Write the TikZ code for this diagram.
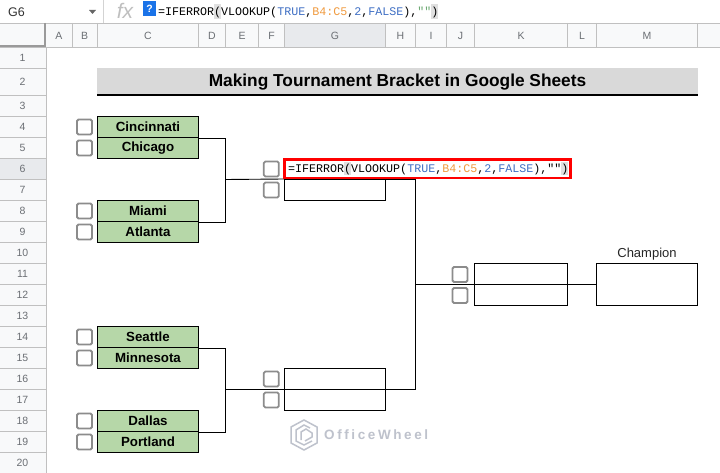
\documentclass[tikz,border=0pt]{standalone}
\usepackage{fontspec}
\setmainfont{Liberation Sans}
\setmonofont{Liberation Mono}
\usetikzlibrary{positioning,calc}
\definecolor{hdrbg}{HTML}{F8F9FA}
\definecolor{hdrsel}{HTML}{E8EAED}
\definecolor{hdrline}{HTML}{C0C0C0}
\definecolor{hdrtext}{HTML}{6B6F74}
\definecolor{teamgreen}{HTML}{B6D7A8}
\definecolor{titlegray}{HTML}{D9D9D9}
\definecolor{chkgray}{HTML}{8C8C8C}
\definecolor{fblue}{HTML}{3F6FC4}
\definecolor{forange}{HTML}{F09A3E}
\definecolor{fgreen}{HTML}{6AA870}
\definecolor{helpblue}{HTML}{1A73E8}
\definecolor{wmgray}{HTML}{BEC2CC}
\tikzset{
  hdrlabel/.style={text=hdrtext,font=\fontsize{10.5}{12}\selectfont,inner sep=0pt},
  teambox/.style={draw=black,line width=1pt,fill=teamgreen,minimum width=101.5pt,minimum height=21pt,inner sep=0pt,font=\bfseries\fontsize{13.3}{15}\selectfont},
  emptybox/.style={draw=black,line width=1pt,fill=white,inner sep=0pt},
  chkbox/.style={draw=chkgray,line width=1.8pt,rounded corners=1.5pt,fill=white,minimum width=15pt,minimum height=15pt,inner sep=0pt},
  wire/.style={draw=black,line width=0.9pt},
}
\newcommand{\fbar}[1]{{\ttfamily\fontsize{11.67}{13}\selectfont #1}}
\begin{document}
\begin{tikzpicture}[x=1pt,y=-1pt]
    \useasboundingbox (0,0) rectangle (720,473);
    \fill[white] (0,0) rectangle (720,473);

    % Formula bar
    \node[anchor=west,inner sep=0pt,text=black!80,font=\fontsize{12.5}{14}\selectfont] (cellname) at (8,12) {G6};
    \fill[black!60] (89,10) -- (96,10) -- (92.5,14) -- cycle;
    \draw[hdrline!70] (103.5,0) -- (103.5,23);
    \node[text=black!25,font=\rmfamily\itshape\fontsize{21}{22}\selectfont,inner sep=0pt] (fxmark) at (125,11) {fx};
    \node[fill=helpblue,text=white,font=\bfseries\fontsize{10.5}{11}\selectfont,minimum width=13pt,minimum height=15pt,inner sep=0pt] (helpmark) at (149.5,8.5) {?};
    \fill[black!12] (213.5,4) rectangle (220.5,19);
    \fill[black!12] (431,4) rectangle (438,19);
    \node[anchor=west,inner sep=0pt] (barformula) at (158,12.5) {\fbar{=IFERROR(VLOOKUP(\textcolor{fblue}{TRUE},\textcolor{forange}{B4:C5},\textcolor{fblue}{2},\textcolor{fblue}{FALSE}),\textcolor{fgreen}{""})}};

    % Column and row headers
    \fill[hdrbg] (0,23) rectangle (720,47);
    \fill[hdrbg] (0,47) rectangle (46,473);
    \fill[hdrsel] (284.5,23) rectangle (385.5,47);
    \fill[hdrsel] (0,158.5) rectangle (46,179.5);
    \draw[hdrline] (0,23.5) -- (720,23.5);
    \draw[hdrline] (0,47.5) -- (720,47.5);
    \draw[hdrline] (46,47) -- (46,473);
    \foreach \name/\left/\right in {A/46/72,B/72/97.5,C/97.5/198.5,D/198.5/225.5,E/225.5/258.5,F/258.5/284.5,G/284.5/385.5,H/385.5/415.5,I/415.5/446.5,J/446.5/474.5,K/474.5/567.5,L/567.5/596.5,M/596.5/697.5} {
        \draw[hdrline] (\right,23) -- (\right,47);
        \node[hdrlabel] (col\name) at ({(\left+\right)/2},35.5) {\name};
    }
    \foreach \n/\top/\bot in {1/47.5/68.5,2/68.5/95.5,3/95.5/116.5,4/116.5/137.5,5/137.5/158.5,6/158.5/179.5,7/179.5/200.5,8/200.5/221.5,9/221.5/242.5,10/242.5/263.5,11/263.5/284.5,12/284.5/305.5,13/305.5/326.5,14/326.5/347.5,15/347.5/368.5,16/368.5/389.5,17/389.5/410.5,18/410.5/431.5,19/431.5/452.5,20/452.5/473.5} {
        \draw[hdrline] (0,\bot) -- (46,\bot);
        \node[hdrlabel] (row\n) at (22.5,{(\top+\bot)/2}) {\n};
    }
    % Frozen corner
    \draw[hdrline!80!black,line width=2.5pt] (45,23) -- (45,46) -- (0,46);

    % Title
    \fill[titlegray] (97,68) rectangle (697.5,94);
    \draw[black,line width=1.6pt] (97,95) -- (697.5,95);
    \node[font=\bfseries\fontsize{17.3}{19}\selectfont,inner sep=0pt] (title) at (397.5,82) {Making Tournament Bracket in Google Sheets};

    % Teams
    \node[teambox] (cincinnati) at (148,127) {Cincinnati};
    \node[teambox] (chicago) at (148,148) {Chicago};
    \node[teambox] (miami) at (148,211) {Miami};
    \node[teambox] (atlanta) at (148,232) {Atlanta};
    \node[teambox] (seattle) at (148,337) {Seattle};
    \node[teambox] (minnesota) at (148,358) {Minnesota};
    \node[teambox] (dallas) at (148,421) {Dallas};
    \node[teambox] (portland) at (148,442) {Portland};

    % Later rounds
    \node[emptybox,minimum width=101pt,minimum height=21pt] (semiTop) at (335,190) {};
    \node[emptybox,minimum width=101pt,minimum height=42pt] (semiBot) at (335,389.5) {};
    \node[emptybox,minimum width=93pt,minimum height=42pt] (finalBox) at (521,284.5) {};
    \node[emptybox,minimum width=101pt,minimum height=42pt] (champBox) at (647,284.5) {};
    \node[inner sep=0pt,font=\fontsize{13}{15}\selectfont,text=black!85] (champLabel) at (647,254) {Champion};

    % Joints
    \coordinate (joinUpper) at (225.5,179.5);
    \coordinate (joinLower) at (225.5,389.5);
    \coordinate (joinMid) at (415.5,284.5);

    % Brackets
    \draw[wire] (cincinnati.south east) -| (joinUpper) |- (miami.south east);
    \draw[wire] (seattle.south east) -| (joinLower) |- (dallas.south east);
    \draw[wire] (joinUpper) -- (semiTop.north west);
    \draw[wire] (joinLower) -- (semiBot.east);
    \draw[wire] (semiTop.north east) -| (joinMid) |- (semiBot.east);
    \draw[wire] (joinMid) -- (champBox.west);

    % Formula cell
    \node[draw=red,line width=2.6pt,fill=white,minimum width=286pt,minimum height=18.5pt,inner sep=0pt] (formulaCell) at (427.5,168.8) {};
    \fill[black!12] (344,162) rectangle (351,175);
    \fill[black!12] (561,162) rectangle (568,175);
    \node[anchor=west,inner sep=0pt] (cellformula) at (288,169) {\fbar{=IFERROR(VLOOKUP(\textcolor{fblue}{TRUE},\textcolor{forange}{B4:C5},\textcolor{fblue}{2},\textcolor{fblue}{FALSE}),"")}};

    % Checkboxes
    \foreach \cx/\cy in {84.5/127,84.5/148,84.5/211,84.5/232,84.5/337,84.5/358,84.5/421,84.5/442,271.3/169,271.3/190,271.3/379,271.3/400,460/274.5,460/295.5} {
        \node[chkbox] at (\cx,\cy) {};
    }

    % Watermark
    \draw[wmgray,line width=1.5pt] (304,420) -- (317,427) -- (317,443) -- (304,450) -- (291,443) -- (291,427) -- cycle;
    \draw[wmgray,line width=1.5pt] (310,428) -- (304,425) -- (296,430) -- (296,441) -- (304,445) -- (312,441);
    \draw[wmgray,line width=1.5pt] (301,440) -- (301,432) -- (306,429) -- (312,433) -- (312,437) -- (305,441);
    \node[anchor=west,inner sep=0pt,text=wmgray,font=\rmfamily\bfseries\fontsize{13.5}{15}\selectfont] (wheelmark) at (324,435) {O\kern2.6pt f\kern2.6pt f\kern2.6pt i\kern2.6pt c\kern2.6pt e\kern2.6pt W\kern2.6pt h\kern2.6pt e\kern2.6pt e\kern2.6pt l};
\end{tikzpicture}
\end{document}
